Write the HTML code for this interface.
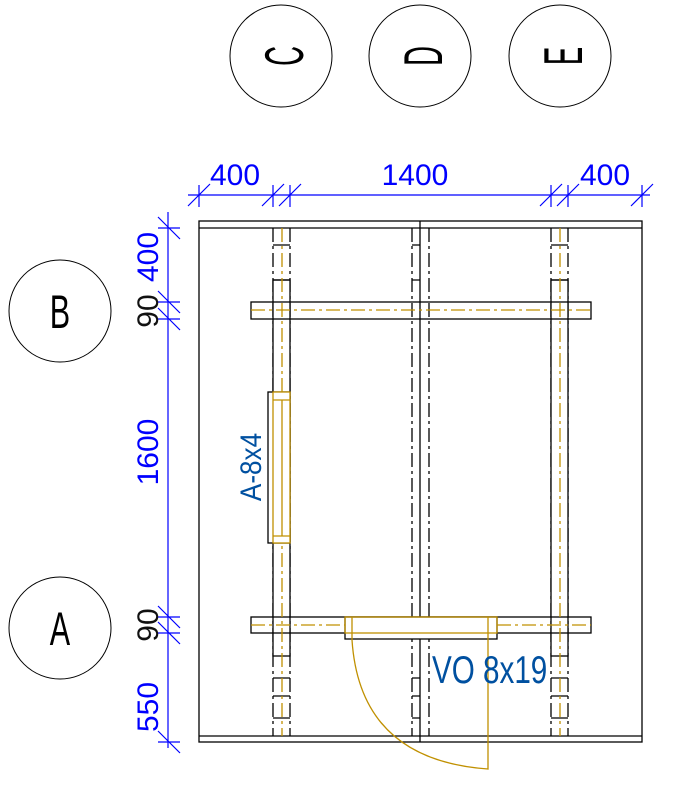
<!DOCTYPE html>
<html><head><style>html,body{margin:0;padding:0;background:#fff}svg{display:block}</style></head>
<body>
<svg width="690" height="789" viewBox="0 0 690 789" xmlns="http://www.w3.org/2000/svg" font-family="Liberation Sans, sans-serif">
<rect width="690" height="789" fill="#fff"/>
<g fill="none" stroke="#000" stroke-width="1">
<circle cx="281" cy="56" r="51"/>
<circle cx="420" cy="56" r="51"/>
<circle cx="560" cy="56" r="51"/>
<circle cx="60" cy="311" r="51"/>
<circle cx="60" cy="628" r="51"/>
</g>
<g font-size="55" fill="#000" text-anchor="middle">
<text transform="translate(283,56) rotate(-90) scale(0.5,1)" y="20">C</text>
<text transform="translate(422,56) rotate(-90) scale(0.5,1)" y="20">D</text>
<text transform="translate(562,56) rotate(-90) scale(0.5,1)" y="20">E</text>
<text transform="translate(60,328) scale(0.65,1)" font-size="47">B</text>
<text transform="translate(60,645) scale(0.65,1)" font-size="47">A</text>
</g>
<!-- dimensions -->
<g stroke="#0000ff" stroke-width="1.2" fill="none">
<line x1="188" y1="195" x2="650" y2="195"/>
<line x1="168" y1="212" x2="168" y2="748"/>
<path d="M199,185V207 M188,206L210,184"/>
<path d="M273,185V207 M262,206L284,184"/>
<path d="M290,185V207 M279,206L301,184"/>
<path d="M551,185V207 M540,206L562,184"/>
<path d="M568,185V207 M557,206L579,184"/>
<path d="M642,185V207 M631,206L653,184"/>
<path d="M158,228H180 M158,217L180,239"/>
<path d="M158,302H180 M158,291L180,313"/>
<path d="M158,319H180 M158,308L180,330"/>
<path d="M158,617H180 M158,606L180,628"/>
<path d="M158,633H180 M158,622L180,644"/>
<path d="M158,742H180 M158,731L180,753"/>
</g>
<g fill="#0000ff" font-size="30" text-anchor="middle">
<text x="235" y="185">400</text>
<text x="415" y="185">1400</text>
<text x="605" y="185">400</text>
<text transform="translate(158,257) rotate(-90)">400</text>
<text transform="translate(158,452) rotate(-90)">1600</text>
<text transform="translate(158,707) rotate(-90)">550</text>
</g>
<g fill="#111" font-size="30" text-anchor="middle">
<text transform="translate(158,311) rotate(-90)">90</text>
<text transform="translate(158,625) rotate(-90)">90</text>
</g>
<!-- frame -->
<g stroke="#000" stroke-width="1.3" fill="none">
<rect x="199" y="221" width="443" height="521"/>
<line x1="199" y1="228" x2="642" y2="228"/>
<line x1="199" y1="736" x2="642" y2="736"/>
<line x1="420" y1="221" x2="420" y2="742"/>
</g>
<!-- dashed posts -->
<g stroke="#000" stroke-width="1.3" fill="none" stroke-dasharray="14,4,3,4">
<line x1="273" y1="228" x2="273" y2="736"/><line x1="290" y1="228" x2="290" y2="736"/>
<line x1="412" y1="228" x2="412" y2="736"/><line x1="429" y1="228" x2="429" y2="736"/>
<line x1="551" y1="228" x2="551" y2="736"/><line x1="568" y1="228" x2="568" y2="736"/>
</g>
<g stroke="#000" stroke-width="1.3" fill="#fff">
<rect x="273" y="280" width="17" height="376"/>
<rect x="551" y="280" width="17" height="376"/>
</g>
<g stroke="#000" stroke-width="1.3" fill="none">
<path d="M273,245H290 M273,280H290 M412,245H420 M412,280H420 M551,245H568 M551,280H568"/>
<path d="M273,678H290 M273,696H290 M273,718H290 M412,678H420 M412,696H420 M412,718H420 M551,678H568 M551,696H568 M551,718H568"/>
</g>
<!-- beams -->
<g stroke="#000" stroke-width="1.3" fill="none">
<rect x="251" y="302" width="340" height="17"/>
<rect x="251" y="617" width="340" height="16"/>
<rect x="345" y="617" width="152" height="22" fill="#fff"/>
<rect x="268" y="392" width="22" height="151" fill="#fff"/>
</g>
<g stroke="#c09000" stroke-width="1.3" fill="none" stroke-dasharray="14,4,3,4">
<line x1="282" y1="228" x2="282" y2="736"/>
<line x1="560" y1="228" x2="560" y2="736"/>
<line x1="251" y1="310" x2="591" y2="310"/>
<line x1="251" y1="625" x2="345" y2="625"/>
<line x1="497" y1="625" x2="591" y2="625"/>
</g>
<g stroke="#c09000" stroke-width="1.3" fill="none">
<rect x="273" y="392" width="17" height="151" fill="#fff"/>
<path d="M273,400H290 M273,536H290 M282,400V536"/>
<rect x="345" y="617" width="152" height="16"/>
<path d="M352,617V640 Q360,760 488,769 V617"/>
</g>
<text transform="translate(261,467) rotate(-90) scale(0.87,1)" text-anchor="middle" font-size="30" fill="#0050a0">A-8x4</text>
<text transform="translate(432,683) scale(0.76,1)" font-size="39" fill="#0050a0">VO 8x19</text>
</svg>
</body></html>
